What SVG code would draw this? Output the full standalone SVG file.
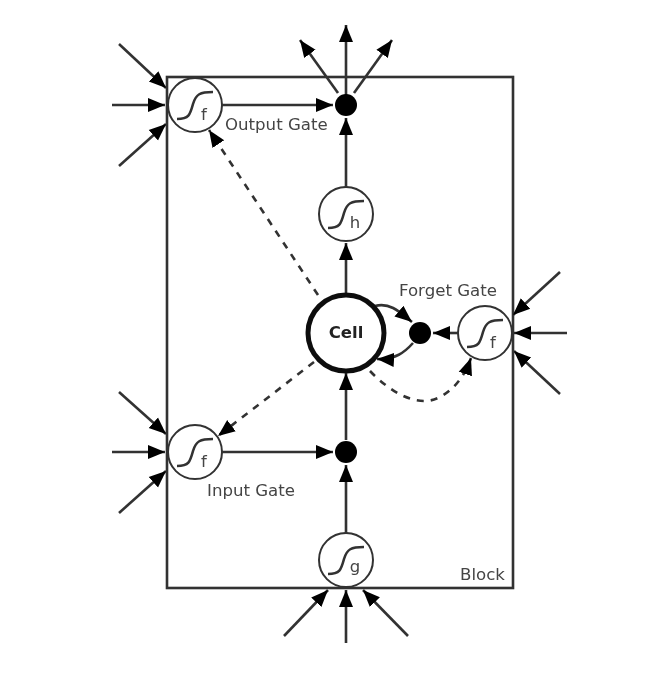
<svg xmlns="http://www.w3.org/2000/svg" width="664" height="690" viewBox="0 0 664 690">
<style>
.box{fill:none;stroke:#333;stroke-width:2.6}
.c line,.c path{fill:none;stroke:#333;stroke-width:2.6}
.a{marker-end:url(#arrow)}
.d{stroke-dasharray:7 7}
.n{fill:#fff;stroke:#333;stroke-width:2}
.s{fill:none;stroke:#333;stroke-width:2.6}
.dot{fill:#000}
text{font-family:"DejaVu Sans",sans-serif;fill:#444;font-size:16.6px}
.m{text-anchor:middle;font-size:16.5px}
.b{font-weight:bold;fill:#222;font-size:16.5px;text-anchor:middle}
</style>
<defs>
<marker id="arrow" markerUnits="userSpaceOnUse" markerWidth="20" markerHeight="16" refX="17" refY="8" orient="auto">
<path d="M0,1 L17,8 L0,15 Z" fill="#000"/>
</marker>
<path id="sig" d="M-18,14 C-6,14 -5,10 -2,-1 C1,-11 5,-13 18,-13"/>
<filter id="soft" x="0" y="0" width="100%" height="100%"><feGaussianBlur stdDeviation="0.7"/></filter>
</defs>
<rect width="664" height="690" fill="#fff"/>
<g filter="url(#soft)">
<rect id="block" class="box" x="167" y="77" width="346" height="511"/>
<g id="connectors" class="c">
<line class="a" x1="119" y1="44" x2="166" y2="88"/>
<line class="a" x1="112" y1="105" x2="165" y2="105"/>
<line class="a" x1="119" y1="166" x2="166" y2="124"/>
<line class="a" x1="222" y1="105" x2="333" y2="105"/>
<line class="a" x1="346" y1="187" x2="346" y2="118"/>
<line class="a" x1="346" y1="293" x2="346" y2="243"/>
<line class="a" x1="346" y1="105" x2="346" y2="25"/>
<line class="a" x1="338" y1="93" x2="300" y2="40"/>
<line class="a" x1="354" y1="93" x2="392" y2="40"/>
<line class="a d" x1="318" y1="295" x2="209" y2="130"/>
<line class="a d" x1="314" y1="362" x2="218" y2="436"/>
<line class="a" x1="119" y1="392" x2="166" y2="434"/>
<line class="a" x1="112" y1="452" x2="165" y2="452"/>
<line class="a" x1="119" y1="513" x2="166" y2="471"/>
<line class="a" x1="222" y1="452" x2="333" y2="452"/>
<line class="a" x1="346" y1="533" x2="346" y2="465"/>
<line class="a" x1="346" y1="440" x2="346" y2="373"/>
<line class="a" x1="284" y1="636" x2="328" y2="590"/>
<line class="a" x1="346" y1="643" x2="346" y2="590"/>
<line class="a" x1="408" y1="636" x2="363" y2="590"/>
<line class="a" x1="560" y1="272" x2="513" y2="315"/>
<line class="a" x1="567" y1="333" x2="514" y2="333"/>
<line class="a" x1="560" y1="394" x2="514" y2="351"/>
<line class="a" x1="458" y1="333" x2="433" y2="333"/>
<path class="a" d="M375,306 C390,302 400,312 412,322"/>
<path class="a" d="M413,343 C405,352 395,360 377,359"/>
<path class="a d" d="M370,371 C390,392 418,409 440,397 C455,389 465,375 471,358"/>
</g>
<g id="node-output-gate"><circle class="n" cx="195" cy="105" r="27"/><use class="s" href="#sig" x="195" y="105"/><text class="m" x="204" y="120">f</text></g>
<g id="node-h"><circle class="n" cx="346" cy="214" r="27"/><use class="s" href="#sig" x="346" y="214"/><text class="m" x="355" y="228">h</text></g>
<g id="node-g"><circle class="n" cx="346" cy="560" r="27"/><use class="s" href="#sig" x="346" y="560"/><text class="m" x="355" y="572">g</text></g>
<g id="node-input-gate"><circle class="n" cx="195" cy="452" r="27"/><use class="s" href="#sig" x="195" y="452"/><text class="m" x="204" y="467">f</text></g>
<g id="node-forget-gate"><circle class="n" cx="485" cy="333" r="27"/><use class="s" href="#sig" x="485" y="333"/><text class="m" x="493" y="348">f</text></g>
<g id="node-cell"><circle cx="346" cy="333" r="38" fill="#fff" stroke="#111" stroke-width="5"/><text class="b" x="346" y="338">Cell</text></g>
<g id="node-output-mult"><circle class="dot" cx="346" cy="105" r="11"/></g>
<g id="node-input-mult"><circle class="dot" cx="346" cy="452" r="11"/></g>
<g id="node-forget-mult"><circle class="dot" cx="420" cy="333" r="11"/></g>
<text x="225" y="130">Output Gate</text>
<text x="399" y="296">Forget Gate</text>
<text x="207" y="496">Input Gate</text>
<text x="460" y="580">Block</text>
</g>
</svg>
